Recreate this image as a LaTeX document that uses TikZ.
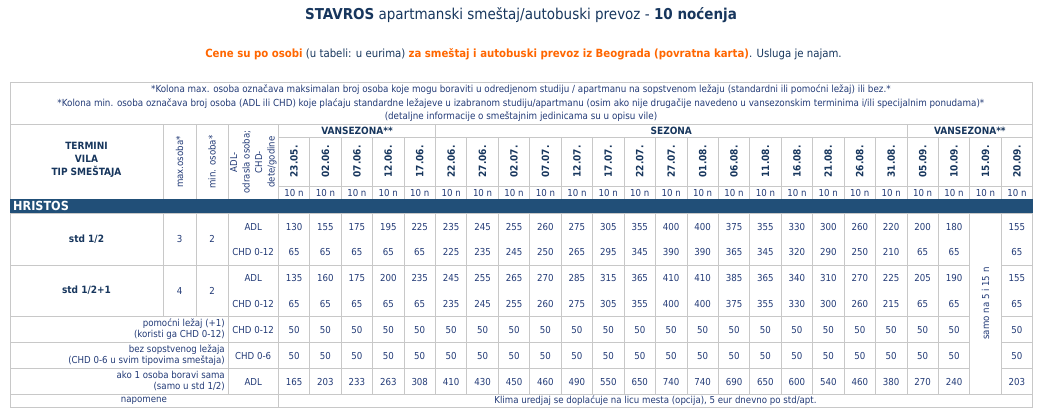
\documentclass[tikz,border=0pt]{standalone}
\usepackage{fontspec}
\setmainfont{DejaVu Sans Condensed}
\usetikzlibrary{positioning}
\definecolor{navy}{RGB}{23,54,93}
\definecolor{ink}{RGB}{34,58,118}
\definecolor{band}{RGB}{33,79,120}
\definecolor{orng}{RGB}{255,102,0}
\definecolor{rule}{RGB}{200,200,200}

\begin{document}
\begin{tikzpicture}[x=1pt,y=-1pt]
\tikzstyle{val} = [text=ink, font=\fontsize{9.6}{11}\selectfont, inner sep=0pt]
\tikzstyle{hd} = [text=navy, font=\bfseries\fontsize{10}{13}\selectfont, inner sep=0pt, align=center]
\tikzstyle{date} = [hd, rotate=90]
\tikzstyle{side} = [val, align=right, anchor=east]
\tikzstyle{grid} = [draw=rule, line width=0.8pt]
\useasboundingbox (0,0) rectangle (1040,408);
% title and notes
\node(title) at (521,15) {\fontsize{15}{18}\selectfont\color{navy}\textbf{STAVROS} apartmanski smeštaj/autobuski prevoz - \textbf{10 noćenja}};
\node(sub) at (523.5,54) {\fontsize{11.3}{14}\selectfont\color{navy}\textbf{\color{orng}Cene su po osobi} (u tabeli: u eurima) \textbf{\color{orng}za smeštaj i autobuski prevoz iz Beograda (povratna karta)}. Usluga je najam.};
\node(notes)[val, align=center, font=\fontsize{9.75}{13.5}\selectfont] at (521,103.6) {*Kolona max. osoba označava maksimalan broj osoba koje mogu boraviti u odredjenom studiju / apartmanu na sopstvenom ležaju (standardni ili pomoćni ležaj) ili bez.*\\
*Kolona min. osoba označava broj osoba (ADL ili CHD) koje plaćaju standardne ležajeve u izabranom studiju/apartmanu (osim ako nije drugačije navedeno u vansezonskim terminima i/ili specijalnim ponudama)*\\
(detaljne informacije o smeštajnim jedinicama su u opisu vile)};
% grid
\draw[grid] (10,82.3) rectangle (1032.7,407);
\foreach \y in {124.5,199,213,394} \draw[grid] (10,\y) -- (1032.7,\y);
\foreach \y in {137,186} \draw[grid] (278.3,\y) -- (1032.7,\y);
\foreach \y in {265,316,342,368} {
  \draw[grid] (10,\y) -- (969.8,\y);
  \draw[grid] (1001.2,\y) -- (1032.7,\y);
}
\foreach \x in {163,196} \draw[grid] (\x,124.5) -- (\x,316);
\draw[grid] (228,124.5) -- (228,394);
\draw[grid] (278.3,124.5) -- (278.3,407);
\foreach \i in {1,...,23} {
  \pgfmathsetmacro\xx{278.3+\i*31.43}
  \draw[grid] (\xx,137) -- (\xx,394);
}
\foreach \i in {5,20} \draw[grid] ({278.3+\i*31.43},124.5) -- ({278.3+\i*31.43},137);
\fill[band] (10,199) rectangle (1032.7,213);
% header
\node(termini)[hd] at (86.5,160) {TERMINI\\VILA\\TIP SMEŠTAJA};
\node(maxo)[val, rotate=90] at (179.5,162) {max.osoba*};
\node(mino)[val, rotate=90] at (212,162) {min. osoba*};
\node(adlh)[val, rotate=90, align=center, font=\fontsize{9.5}{12.5}\selectfont] at (253.5,162) {ADL-\\odrasla osoba;\\CHD-\\dete/godine};
\node(van1)[hd] at (357,131) {VANSEZONA**};
\node(sez)[hd] at (671.3,131) {SEZONA};
\node(van2)[hd] at (969.9,131) {VANSEZONA**};
\foreach \d [count=\i] in {23.05.,02.06.,07.06.,12.06.,17.06.,22.06.,27.06.,02.07.,07.07.,12.07.,17.07.,22.07.,27.07.,01.08.,06.08.,11.08.,16.08.,21.08.,26.08.,31.08.,05.09.,10.09.,15.09.,20.09.} {
  \node(d\i)[date] at ({278.3+(\i-0.5)*31.43},161.5) {\d};
  \node(n\i)[val] at ({278.3+(\i-0.5)*31.43},192.5) {10 n};
}
\node(hristos)[anchor=west, text=white, inner sep=0pt, font=\bfseries\fontsize{12.5}{14}\selectfont] at (13,206) {HRISTOS};
% rows
\node(std1)[hd] at (86.5,239) {std 1/2};
\node(max1)[val] at (179.5,239) {3};
\node(min1)[val] at (212,239) {2};
\node(adl1)[val] at (253.2,227) {ADL};
\node(chd1)[val] at (253.2,252) {CHD 0-12};
\node(std2)[hd] at (86.5,290.5) {std 1/2+1};
\node(max2)[val] at (179.5,290.5) {4};
\node(min2)[val] at (212,290.5) {2};
\node(adl2)[val] at (253.2,278) {ADL};
\node(chd2)[val] at (253.2,303.5) {CHD 0-12};
\node(pom)[side] at (225,329) {pomoćni ležaj (+1)\\(koristi ga CHD 0-12)};
\node(chd3)[val] at (253.2,329.5) {CHD 0-12};
\node(bez)[side] at (225,355) {bez sopstvenog ležaja\\(CHD 0-6 u svim tipovima smeštaja)};
\node(chd4)[val] at (253.2,355.5) {CHD 0-6};
\node(ako)[side] at (225,381) {ako 1 osoba boravi sama\\(samo u std 1/2)};
\node(adl3)[val] at (253.2,381.5) {ADL};
\node(nap)[val] at (144,400.5) {napomene};
\node(klima)[val] at (655.5,400.5) {Klima uredjaj se doplaćuje na licu mesta (opcija), 5 eur dnevno po std/apt.};
\node(samo)[val, rotate=90] at (985.5,303.5) {samo na 5 i 15 n};
% values
\foreach \v [count=\i] in {130,155,175,195,225,235,245,255,260,275,305,355,400,400,375,355,330,300,260,220,200,180,155} {
  \pgfmathtruncatemacro\c{\i<23 ? \i : \i+1}
  \node(a1-\c)[val] at ({278.3+(\c-0.5)*31.43},227) {\v};
}
\foreach \v [count=\i] in {65,65,65,65,65,225,235,245,250,265,295,345,390,390,365,345,320,290,250,210,65,65,65} {
  \pgfmathtruncatemacro\c{\i<23 ? \i : \i+1}
  \node(c1-\c)[val] at ({278.3+(\c-0.5)*31.43},252) {\v};
}
\foreach \v [count=\i] in {135,160,175,200,235,245,255,265,270,285,315,365,410,410,385,365,340,310,270,225,205,190,155} {
  \pgfmathtruncatemacro\c{\i<23 ? \i : \i+1}
  \node(a2-\c)[val] at ({278.3+(\c-0.5)*31.43},278) {\v};
}
\foreach \v [count=\i] in {65,65,65,65,65,235,245,255,260,275,305,355,400,400,375,355,330,300,260,215,65,65,65} {
  \pgfmathtruncatemacro\c{\i<23 ? \i : \i+1}
  \node(c2-\c)[val] at ({278.3+(\c-0.5)*31.43},303.5) {\v};
}
\foreach \c in {1,...,22,24} {
  \node(p-\c)[val] at ({278.3+(\c-0.5)*31.43},329.5) {50};
  \node(b-\c)[val] at ({278.3+(\c-0.5)*31.43},355.5) {50};
}
\foreach \v [count=\i] in {165,203,233,263,308,410,430,450,460,490,550,650,740,740,690,650,600,540,460,380,270,240,203} {
  \pgfmathtruncatemacro\c{\i<23 ? \i : \i+1}
  \node(s-\c)[val] at ({278.3+(\c-0.5)*31.43},381.5) {\v};
}
\end{tikzpicture}
\end{document}
